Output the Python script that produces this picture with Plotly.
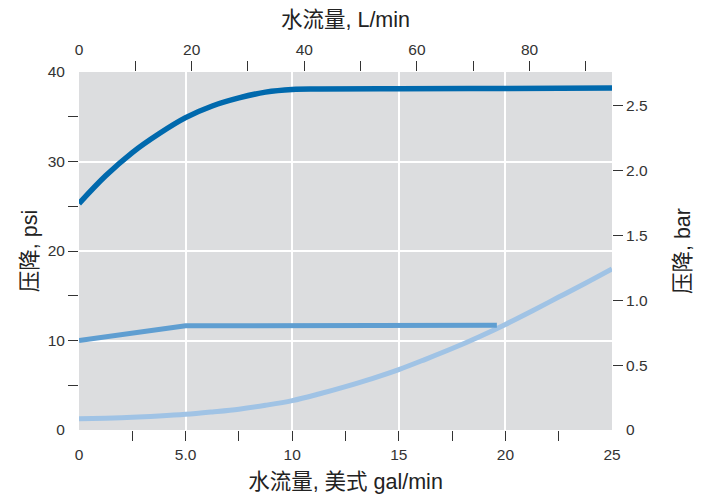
import plotly.graph_objects as go

# Data (gal/min vs psi)
flow_a = [0, 1.25, 2.5, 3.75, 5, 6.25, 7.5, 8.75, 10, 11.25, 15, 20, 25]
psi_a = [25.3, 28.4, 31.0, 33.1, 34.9, 36.2, 37.1, 37.75, 38.05, 38.1, 38.12, 38.16, 38.2]

flow_b = [0, 5, 19.6]
psi_b = [10.0, 11.65, 11.7]

flow_c = [0, 1.25, 2.5, 3.75, 5, 6.25, 7.5, 8.75, 10, 11.25, 12.5,
          13.75, 15, 16.25, 17.5, 18.75, 20, 21.25, 22.5, 23.75, 25]
psi_c = [1.25, 1.32, 1.42, 1.56, 1.75, 2.02, 2.33, 2.76, 3.28, 4.02, 4.85,
         5.75, 6.75, 7.9, 9.1, 10.4, 11.8, 13.3, 14.85, 16.4, 18.0]

# Axis ticks
x_major = [5, 10, 15, 20]
x_major_text = ["5.0", "10", "15", "20"]
x_minor = [2.5, 7.5, 12.5, 17.5, 22.5]
x_ends = [0, 25]
x_ends_text = ["0", "25"]

y_major = [10, 20, 30]
y_minor = [5, 15, 25, 35]
y_ends = [0, 40]

bar_ticks = [0.5, 1.0, 1.5, 2.0, 2.5]
bar_text = ["0.5", "1.0", "1.5", "2.0", "2.5"]

lpm_major = [20, 40, 60, 80]
lpm_minor = [10, 30, 50, 70, 90]

GPM_MAX = 25
PSI_MAX = 40
LPM_MAX = GPM_MAX * 3.78541
BAR_MAX = PSI_MAX * 0.0689476

FONT = "Liberation Sans, Arial, Noto Sans CJK SC, sans-serif"
TICKC = "#333333"
TXT = "#222222"
CLEAR = "rgba(0,0,0,0)"

fig = go.Figure()

fig.add_trace(go.Scatter(x=flow_c, y=psi_c, mode="lines",
                         line=dict(color="#A0C3E5", width=5, shape="spline", smoothing=1.0),
                         showlegend=False, hoverinfo="skip"))
fig.add_trace(go.Scatter(x=flow_b, y=psi_b, mode="lines",
                         line=dict(color="#5F9ED1", width=5),
                         showlegend=False, hoverinfo="skip"))
fig.add_trace(go.Scatter(x=flow_a, y=psi_a, mode="lines",
                         line=dict(color="#0069AD", width=5.5, shape="spline", smoothing=1.0),
                         showlegend=False, hoverinfo="skip"))

# empty traces to make sure overlay axes are drawn
for xa, ya in [("x2", "y"), ("x3", "y"), ("x4", "y"), ("x", "y2"), ("x", "y3"), ("x", "y4")]:
    fig.add_trace(go.Scatter(x=[], y=[], xaxis=xa, yaxis=ya, showlegend=False, hoverinfo="skip"))

tickfont = dict(family=FONT, size=15.5, color=TICKC)
titlefont = dict(family=FONT, size=21.5, color=TXT)

fig.update_layout(
    width=702, height=496,
    margin=dict(l=71, r=98, t=64, b=74, autoexpand=False),
    paper_bgcolor="white",
    plot_bgcolor="#DCDDDF",
    font=dict(family=FONT, color=TXT),
    xaxis=dict(
        range=[0, GPM_MAX], tickmode="array", tickvals=x_major, ticktext=x_major_text,
        ticks="outside", ticklen=10, tickwidth=1.2, tickcolor=TICKC,
        minor=dict(tickmode="array", tickvals=x_minor, ticks="outside", ticklen=10,
                   tickwidth=1.2, tickcolor=TICKC, showgrid=False),
        showgrid=True, gridcolor="white", gridwidth=1.5,
        zeroline=False, showline=False, tickfont=tickfont,
        title=dict(text="水流量, 美式 gal/min", font=titlefont, standoff=12),
    ),
    xaxis3=dict(
        range=[0, GPM_MAX], overlaying="x", side="bottom", anchor="y",
        tickmode="array", tickvals=x_ends, ticktext=x_ends_text,
        ticks="outside", ticklen=10, tickcolor=CLEAR, showgrid=False,
        zeroline=False, showline=False, tickfont=tickfont,
    ),
    xaxis2=dict(
        range=[0, LPM_MAX], overlaying="x", side="top", anchor="y",
        tickmode="array", tickvals=lpm_major, ticktext=[str(v) for v in lpm_major],
        ticks="outside", ticklen=10, tickwidth=1.2, tickcolor=TICKC,
        minor=dict(tickmode="array", tickvals=lpm_minor, ticks="outside", ticklen=10,
                   tickwidth=1.2, tickcolor=TICKC, showgrid=False),
        showgrid=False, zeroline=False, showline=False, tickfont=tickfont,
        title=dict(text="水流量, L/min", font=titlefont, standoff=12),
    ),
    xaxis4=dict(
        range=[0, LPM_MAX], overlaying="x", side="top", anchor="y",
        tickmode="array", tickvals=[0], ticktext=["0"],
        ticks="outside", ticklen=10, tickcolor=CLEAR, showgrid=False,
        zeroline=False, showline=False, tickfont=tickfont,
    ),
    yaxis=dict(
        range=[0, PSI_MAX], tickmode="array", tickvals=y_major, ticktext=[str(v) for v in y_major],
        ticks="outside", ticklen=10, tickwidth=1.2, tickcolor=TICKC,
        minor=dict(tickmode="array", tickvals=y_minor, ticks="outside", ticklen=10,
                   tickwidth=1.2, tickcolor=TICKC, showgrid=False),
        showgrid=True, gridcolor="white", gridwidth=1.5,
        zeroline=False, showline=False, tickfont=tickfont,
        title=dict(text="压降, psi", font=titlefont, standoff=4),
    ),
    yaxis3=dict(
        range=[0, PSI_MAX], overlaying="y", side="left", anchor="x",
        tickmode="array", tickvals=y_ends, ticktext=[str(v) for v in y_ends],
        ticks="outside", ticklen=10, tickcolor=CLEAR, showgrid=False,
        zeroline=False, showline=False, tickfont=tickfont,
    ),
    yaxis2=dict(
        range=[0, BAR_MAX], overlaying="y", side="right", anchor="x",
        tickmode="array", tickvals=bar_ticks, ticktext=bar_text,
        ticks="outside", ticklen=10, tickwidth=1.2, tickcolor=TICKC,
        showgrid=False, zeroline=False, showline=False, tickfont=tickfont,
        title=dict(text="压降, bar", font=titlefont, standoff=27),
    ),
    yaxis4=dict(
        range=[0, BAR_MAX], overlaying="y", side="right", anchor="x",
        tickmode="array", tickvals=[0], ticktext=["0"],
        ticks="outside", ticklen=10, tickcolor=CLEAR, showgrid=False,
        zeroline=False, showline=False, tickfont=tickfont,
    ),
)

fig.write_html("out.html")
